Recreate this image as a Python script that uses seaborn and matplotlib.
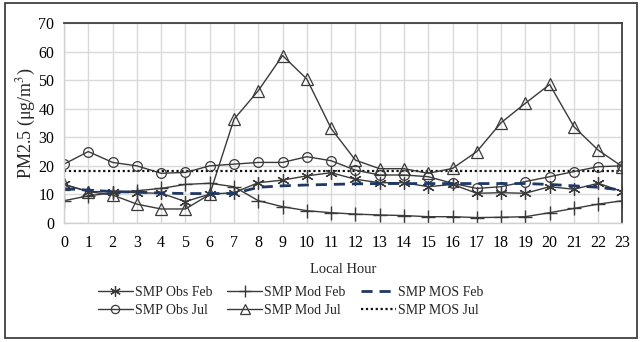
import numpy as np
import pandas as pd
import seaborn as sns
import matplotlib
matplotlib.use("Agg")
import matplotlib.pyplot as plt
from matplotlib.lines import Line2D
from matplotlib.patches import Rectangle

hours = list(range(24))
obs_feb = [13.5, 11, 11, 10.6, 10.4, 7.5, 10.1, 10.6, 14.1, 15, 16.5, 17.6,
           15.3, 14.1, 14.1, 12.7, 13.5, 10.4, 10.6, 10.4, 12.7, 11.8, 13.9, 11]
mod_feb = [7.8, 9.5, 10.6, 11.3, 12.1, 13.5, 13.9, 12.7, 7.8, 5.7, 4.3, 3.6,
           3.1, 2.8, 2.6, 2.2, 2.2, 1.9, 2.0, 2.2, 3.6, 5.1, 6.6, 7.8]
mos_feb = [12, 11.5, 11, 10.8, 10.5, 10.3, 10.3, 10.3, 12.5, 13, 13.3, 13.5,
           13.7, 13.8, 13.8, 13.8, 13.8, 13.8, 13.8, 13.8, 13.5, 13, 12.5, 11.5]
obs_jul = [20.6, 25, 21.2, 20, 17.4, 17.7, 20, 20.6, 21.2, 21.2, 23.2, 21.8,
           18.5, 16.8, 16.8, 16.2, 13.9, 12.1, 12.7, 14.5, 16.2, 18, 19.7, 20]
mod_jul = [13.5, 11, 9.8, 6.6, 4.9, 4.9, 10, 36.3, 46.3, 58.6, 50.4, 33.1,
           22, 19, 19, 17.4, 19.1, 25, 35.1, 41.9, 48.5, 33.7, 25.5, 19.7]
mos_jul = [18.3] * 24

labels = ["SMP Obs Feb", "SMP Mod Feb", "SMP MOS Feb",
          "SMP Obs Jul", "SMP Mod Jul", "SMP MOS Jul"]

sns.set_theme(style="white")
plt.rcParams["font.family"] = ["Liberation Serif", "DejaVu Serif"]
plt.rcParams["mathtext.fontset"] = "stix"

fig = plt.figure(figsize=(6.42, 3.42), dpi=100)
ax = fig.add_axes([0.0997, 0.348, 0.8699, 0.5847])

line_col = "#3a3a3a"
ast = (6, 2, 0)
styles = {
    "SMP Obs Feb": dict(color=line_col, lw=1.0, ls="-", marker=ast, ms=9, mfc="none", mec=line_col, mew=0.9),
    "SMP Mod Feb": dict(color=line_col, lw=1.0, ls="-", marker="+", ms=10, mec=line_col, mew=1.0),
    "SMP MOS Feb": dict(color="#1f3864", lw=2.0, ls=(0, (4, 2.5)), marker=None),
    "SMP Obs Jul": dict(color=line_col, lw=1.0, ls="-", marker="o", ms=7, mfc="none", mec=line_col, mew=0.9),
    "SMP Mod Jul": dict(color=line_col, lw=1.0, ls="-", marker="^", ms=8, mfc="none", mec=line_col, mew=0.9),
    "SMP MOS Jul": dict(color="#111111", lw=1.6, ls=(0, (1, 1.2)), marker=None),
}
series = {"SMP Obs Feb": obs_feb, "SMP Mod Feb": mod_feb, "SMP MOS Feb": mos_feb,
          "SMP Obs Jul": obs_jul, "SMP Mod Jul": mod_jul, "SMP MOS Jul": mos_jul}

order = ["SMP MOS Jul", "SMP Mod Feb", "SMP Obs Jul", "SMP Obs Feb", "SMP Mod Jul", "SMP MOS Feb"]
for name in order:
    st = styles[name]
    kw = dict(color=st["color"], linewidth=st["lw"], linestyle=st["ls"])
    if st["marker"] is not None:
        kw.update(marker=st["marker"], markersize=st["ms"], markeredgecolor=st["mec"],
                  markeredgewidth=st["mew"])
        if "mfc" in st:
            kw["markerfacecolor"] = st["mfc"]
    sns.lineplot(x=hours, y=series[name], ax=ax, legend=False, **kw)

ax.set_xlim(0, 23)
ax.set_ylim(0, 70)
ax.set_xticks(hours)
ax.set_yticks(range(0, 71, 10))
ax.grid(True, color="#d9d9d9", linewidth=1.0)
ax.set_axisbelow(True)
ax.tick_params(axis="both", labelsize=11.5, length=0, colors="black")
ax.tick_params(axis="x", pad=9)
ax.tick_params(axis="y", pad=7)
ax.set_xlabel("Local Hour", fontsize=10.5, labelpad=8)
ax.set_ylabel("PM2.5 (μg/m$^3$)", fontsize=13, labelpad=0)
for s in ["left", "bottom"]:
    ax.spines[s].set_color("#d0d0d0")
    ax.spines[s].set_linewidth(1.0)
for s in ["top", "right"]:
    ax.spines[s].set_color("#404040")
    ax.spines[s].set_linewidth(1.3)

handles = {}
for name in labels:
    st = styles[name]
    handles[name] = Line2D([], [], color=st["color"], linewidth=st["lw"], linestyle=st["ls"],
                           marker=st["marker"] if st["marker"] else None,
                           markersize=st.get("ms", 0) * 0.85, markeredgecolor=st.get("mec", st["color"]),
                           markerfacecolor=st.get("mfc", st["color"]), markeredgewidth=st.get("mew", 1))
# column-major order so rows read Feb / Jul
leg_order = ["SMP Obs Feb", "SMP Obs Jul", "SMP Mod Feb", "SMP Mod Jul", "SMP MOS Feb", "SMP MOS Jul"]
fig.legend([handles[n] for n in leg_order], leg_order, loc="upper left",
           bbox_to_anchor=(0.133, 0.2), ncol=3,
           frameon=False, fontsize=10, handlelength=2.5, handletextpad=0.15,
           columnspacing=1.1, labelspacing=0.35)

fig.patches.append(Rectangle((0.008, 0.012), 0.984, 0.978, transform=fig.transFigure,
                             fill=False, edgecolor="#404040", linewidth=1.3))

fig.savefig("out.png", dpi=100)
